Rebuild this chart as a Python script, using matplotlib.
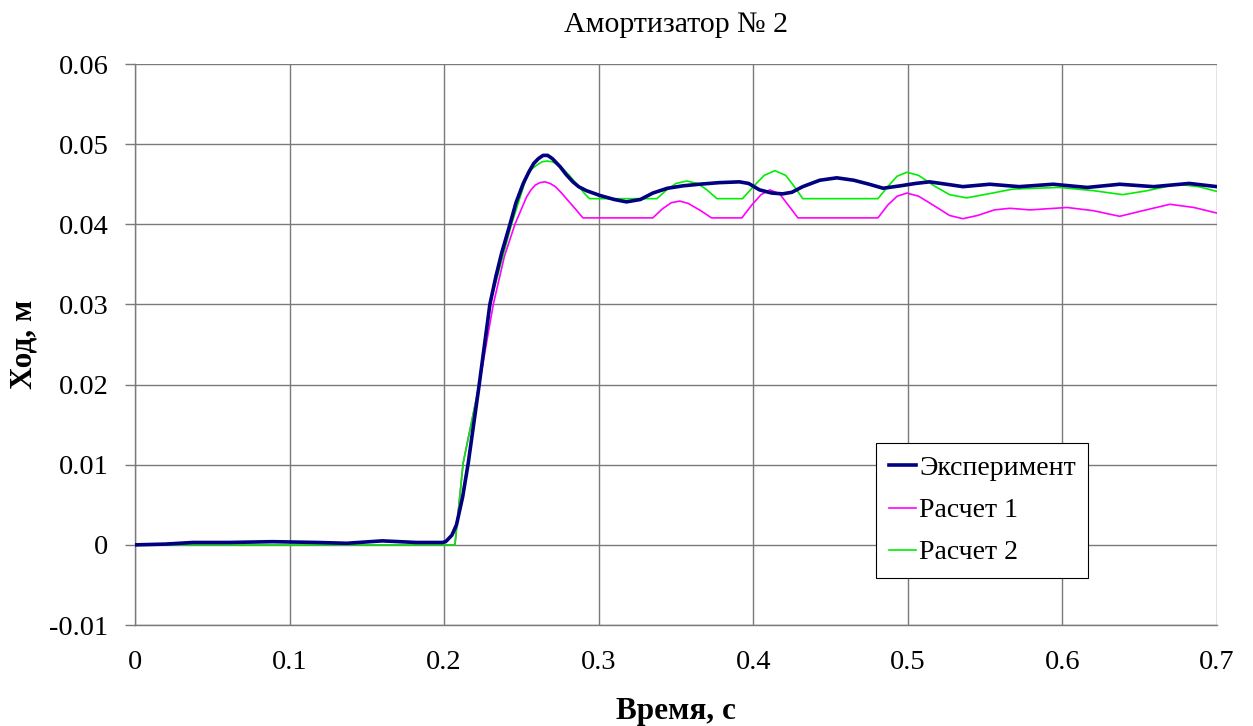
import matplotlib
matplotlib.use("Agg")
import matplotlib.pyplot as plt

# Experiment (measured stroke), s / m
t_exp = [0.0, 0.02, 0.0375, 0.061, 0.089, 0.118, 0.137, 0.16, 0.182, 0.199,
         0.201, 0.205, 0.208, 0.212, 0.2156, 0.2227, 0.2296, 0.2335, 0.2372,
         0.2426, 0.2465, 0.2512, 0.255, 0.258, 0.261, 0.264, 0.267, 0.27,
         0.275, 0.279, 0.2833, 0.287, 0.292, 0.3008, 0.31, 0.318, 0.327,
         0.335, 0.3445, 0.3545, 0.365, 0.378, 0.391, 0.397, 0.404, 0.412,
         0.419, 0.425, 0.432, 0.443, 0.454, 0.465, 0.475, 0.484, 0.495,
         0.505, 0.514, 0.525, 0.5356, 0.553, 0.572, 0.594, 0.616, 0.637,
         0.659, 0.682, 0.7]
x_exp = [0.0, 0.0001, 0.0003, 0.0003, 0.0004, 0.0003, 0.0002, 0.0005, 0.0003, 0.0003,
         0.0004, 0.0012, 0.0025, 0.006, 0.0102, 0.0200, 0.0300, 0.0335, 0.0364,
         0.0400, 0.0427, 0.0451, 0.0466, 0.0476, 0.0482, 0.0486, 0.0486, 0.0482,
         0.0472, 0.0462, 0.0453, 0.0447, 0.0442, 0.0436, 0.0431, 0.0428, 0.0431,
         0.0439, 0.0445, 0.0448, 0.0450, 0.0452, 0.0453, 0.0451, 0.0443, 0.0439,
         0.0438, 0.0440, 0.0447, 0.0455, 0.0458, 0.0455, 0.0450, 0.0445, 0.0448,
         0.0451, 0.0453, 0.0450, 0.0447, 0.0450, 0.0447, 0.0450, 0.0446, 0.0450,
         0.0447, 0.0451, 0.0447]

# Calculation 1
t_calc1 = [0.0, 0.207, 0.2123, 0.2227, 0.2318, 0.239, 0.2458, 0.2533, 0.2562,
           0.259, 0.262, 0.2652, 0.2685, 0.272, 0.276, 0.28, 0.285, 0.2898,
           0.335, 0.341, 0.347, 0.3525, 0.358, 0.366, 0.373, 0.3926, 0.399,
           0.405, 0.4107, 0.417, 0.423, 0.4289, 0.4806, 0.487, 0.493, 0.4994,
           0.507, 0.518, 0.527, 0.5356, 0.545, 0.556, 0.566, 0.579, 0.603, 0.62,
           0.637, 0.652, 0.6695, 0.685, 0.7]
x_calc1 = [0.0, 0.0, 0.0102, 0.0200, 0.0300, 0.0360, 0.0400, 0.0434, 0.0443,
           0.0449, 0.0452, 0.0453, 0.0451, 0.0447, 0.0439, 0.0430, 0.0419, 0.0408,
           0.0408, 0.0419, 0.0427, 0.0429, 0.0426, 0.0417, 0.0408, 0.0408, 0.0424,
           0.0437, 0.0443, 0.0438, 0.0423, 0.0408, 0.0408, 0.0424, 0.0435, 0.0439,
           0.0435, 0.0422, 0.0411, 0.0407, 0.0411, 0.0418, 0.0420, 0.0418, 0.0421, 0.0417,
           0.0410, 0.0417, 0.0425, 0.0421, 0.0414]

# Calculation 2
t_calc2 = [0.0, 0.207, 0.2123, 0.2227, 0.2296, 0.2436, 0.2533, 0.2567, 0.26,
           0.2635, 0.2667, 0.27, 0.273, 0.277, 0.281, 0.2845, 0.288, 0.291,
           0.294, 0.3376, 0.344, 0.35, 0.357, 0.364, 0.37, 0.3765, 0.393, 0.4,
           0.407, 0.414, 0.421, 0.427, 0.432, 0.4806, 0.487, 0.493, 0.4994,
           0.507, 0.517, 0.527, 0.538, 0.552, 0.568, 0.598, 0.62, 0.639, 0.655,
           0.674, 0.688, 0.7]
x_calc2 = [0.0, 0.0, 0.0102, 0.0200, 0.0300, 0.0400, 0.0459, 0.0469, 0.0474,
           0.0478, 0.0479, 0.0478, 0.0475, 0.0469, 0.0461, 0.0453, 0.0445, 0.0438,
           0.0432, 0.0432, 0.0443, 0.0451, 0.0454, 0.0451, 0.0443, 0.0432, 0.0432, 0.0447,
           0.0461, 0.0467, 0.0461, 0.0446, 0.0432, 0.0432, 0.0447, 0.0460, 0.0465,
           0.0461, 0.0448, 0.0437, 0.0433, 0.0438, 0.0444, 0.0446, 0.0442, 0.0437, 0.0442,
           0.0450, 0.0447, 0.0441]

x_ticks = [0, 0.1, 0.2, 0.3, 0.4, 0.5, 0.6, 0.7]
x_tick_labels = ["0", "0.1", "0.2", "0.3", "0.4", "0.5", "0.6", "0.7"]
y_ticks = [-0.01, 0, 0.01, 0.02, 0.03, 0.04, 0.05, 0.06]
y_tick_labels = ["-0.01", "0", "0.01", "0.02", "0.03", "0.04", "0.05", "0.06"]

plt.rcParams["font.family"] = ["Liberation Serif", "DejaVu Serif"]

fig = plt.figure(figsize=(12.53, 7.26), dpi=100)
ax = fig.add_axes([0.1077, 0.1391, 0.8636, 0.7727])

ax.plot(t_calc1, x_calc1, color="#ff00ff", lw=1.2, label="Расчет 1", zorder=3)
ax.plot(t_calc2, x_calc2, color="#00ee00", lw=1.2, label="Расчет 2", zorder=4)
ax.plot(t_exp, x_exp, color="#000080", lw=2.6, label="Эксперимент", zorder=5)

ax.set_xlim(0, 0.7)
ax.set_ylim(-0.01, 0.06)
ax.set_xticks(x_ticks)
ax.set_xticklabels(x_tick_labels)
ax.set_yticks(y_ticks)
ax.set_yticklabels(y_tick_labels)
ax.grid(True, color="#7a7a7a", lw=1.0)
ax.set_axisbelow(True)

for side in ("top", "right"):
    ax.spines[side].set_visible(False)
for side in ("left", "bottom"):
    ax.spines[side].set_color("#7a7a7a")
    ax.spines[side].set_linewidth(1.0)

ax.tick_params(axis="y", length=7, width=1, color="#7a7a7a", pad=12, labelsize=20.5)
ax.tick_params(axis="x", length=0, pad=18, labelsize=20.5)

ax.set_xlabel("Время, с", fontsize=22.5, fontweight="bold", labelpad=16)
ax.set_ylabel("Ход, м", fontsize=22.5, fontweight="bold", labelpad=8)
ax.set_title("Амортизатор № 2", fontsize=21.5, pad=23)

handles, labels = ax.get_legend_handles_labels()
order = [2, 0, 1]
leg = ax.legend([handles[i] for i in order], [labels[i] for i in order],
                loc="upper left", bbox_to_anchor=(0.685, 0.324), fontsize=20,
                frameon=True, fancybox=False, edgecolor="black", framealpha=1,
                handlelength=1.0, handletextpad=0.1, labelspacing=0.6,
                borderpad=0.45, borderaxespad=0)
leg.get_frame().set_linewidth(0.8)

fig.savefig("out.png", dpi=100)
